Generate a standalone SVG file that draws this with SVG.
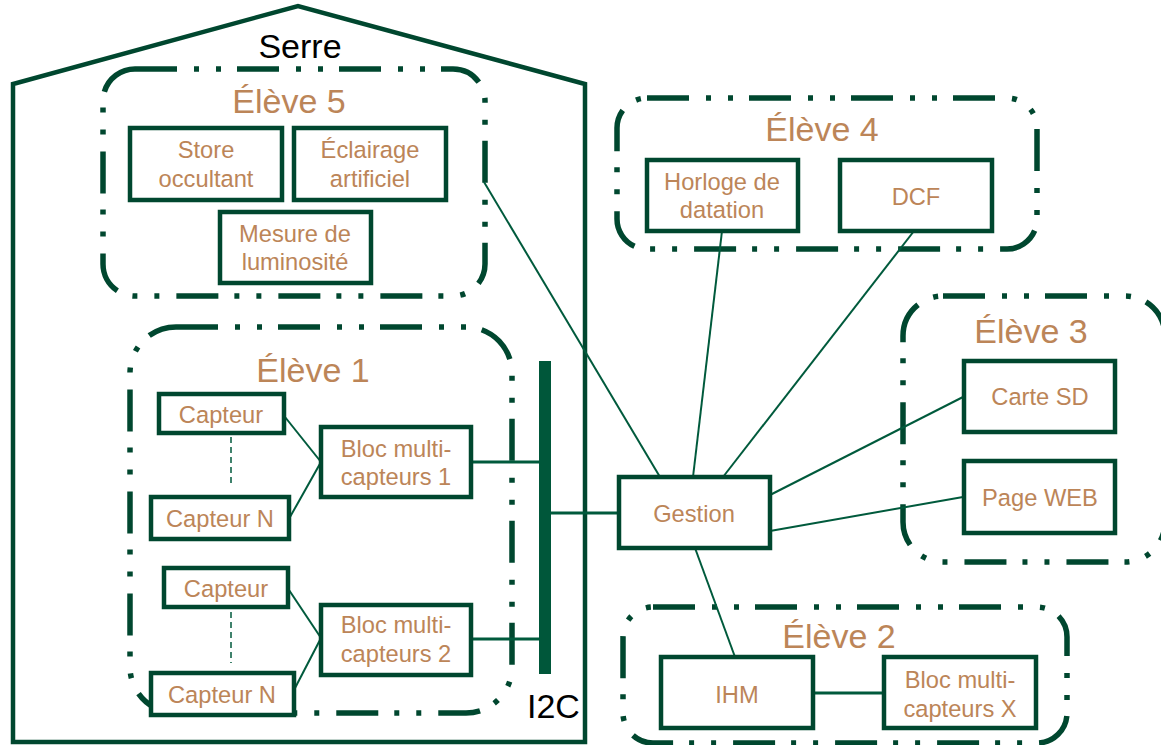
<svg xmlns="http://www.w3.org/2000/svg" width="1161" height="745" viewBox="0 0 1161 745">
<style>
.grp{fill:none;stroke:#00472F;stroke-width:5.5;stroke-dasharray:42 17 5 17 5 16}
.box{fill:#fff;stroke:#00472F;stroke-width:4.5}
.t{font-family:"Liberation Sans",Arial,sans-serif;fill:#BC8558;text-anchor:middle;font-size:23.7px}
.h{font-family:"Liberation Sans",Arial,sans-serif;fill:#BC8558;text-anchor:middle;font-size:34px}
.k{font-family:"Liberation Sans",Arial,sans-serif;fill:#000;font-size:34px}
.c{stroke:#005A3C;stroke-width:2;fill:none}
.c3{stroke:#005A3C;stroke-width:3;fill:none}
.d{stroke:#005A3C;stroke-width:1.5;stroke-dasharray:6 4;fill:none}
</style>
<rect width="1161" height="745" fill="#fff"/>
<g id="serre">
<polygon points="13,742 13,84 298,6 585,84 585,742" fill="none" stroke="#00472F" stroke-width="4.5"/>
<text class="k" x="300" y="58" text-anchor="middle">Serre</text>
</g>
<g id="eleve5">
<rect class="grp" x="103" y="69" width="382" height="227" rx="32"/>
<text class="h" x="289" y="113">Élève 5</text>
</g>
<g id="eleve1">
<rect class="grp" x="130" y="327" width="382" height="386" rx="46"/>
<text class="h" x="313" y="382">Élève 1</text>
</g>
<g id="eleve4">
<rect class="grp" x="617" y="98" width="420" height="151" rx="30"/>
<text class="h" x="822" y="141">Élève 4</text>
</g>
<g id="eleve3">
<rect class="grp" x="903" y="296" width="262" height="266" rx="40"/>
<text class="h" x="1031" y="343">Élève 3</text>
</g>
<g id="eleve2">
<rect class="grp" x="623" y="607" width="444" height="136" rx="30"/>
<text class="h" x="839" y="648">Élève 2</text>
</g>
<g id="connectors">
<line class="c" x1="484" y1="182" x2="660" y2="477"/>
<line class="c" x1="722" y1="231" x2="693" y2="477"/>
<line class="c" x1="914" y1="231" x2="723" y2="477"/>
<line class="c" x1="963" y1="397" x2="770" y2="495"/>
<line class="c" x1="963" y1="497" x2="770" y2="531"/>
<line class="c" x1="695" y1="548" x2="735" y2="657"/>
<line class="c3" x1="813" y1="693" x2="884" y2="693"/>
<line class="c3" x1="551" y1="513" x2="617" y2="513"/>
<line class="c3" x1="471" y1="462" x2="545" y2="462"/>
<line class="c3" x1="471" y1="639" x2="545" y2="639"/>
<line class="c" x1="285" y1="417" x2="321" y2="462"/>
<line class="c" x1="290" y1="517" x2="321" y2="462"/>
<line class="c" x1="289" y1="590" x2="321" y2="638"/>
<line class="c" x1="294" y1="690" x2="321" y2="638"/>
<line class="d" x1="231" y1="437" x2="231" y2="487"/>
<line class="d" x1="231" y1="612" x2="231" y2="663"/>
</g>
<g id="i2c">
<rect x="539" y="361" width="12" height="313" fill="#00573A"/>
<text class="k" x="527" y="718">I2C</text>
</g>
<g id="store"><rect class="box" x="130" y="128" width="152" height="72"/><text class="t" x="206" y="158">Store</text><text class="t" x="206" y="187">occultant</text></g>
<g id="eclairage"><rect class="box" x="294" y="128" width="152" height="72"/><text class="t" x="370" y="158">Éclairage</text><text class="t" x="370" y="187">artificiel</text></g>
<g id="mesure"><rect class="box" x="220" y="212" width="151" height="71"/><text class="t" x="295" y="242">Mesure de</text><text class="t" x="295" y="270">luminosité</text></g>
<g id="capteur1"><rect class="box" x="159" y="394" width="125" height="39"/><text class="t" x="221" y="423">Capteur</text></g>
<g id="capteurN1"><rect class="box" x="151" y="497" width="138" height="42"/><text class="t" x="220" y="527">Capteur N</text></g>
<g id="bloc1"><rect class="box" x="321" y="427" width="150" height="70"/><text class="t" x="396" y="457">Bloc multi-</text><text class="t" x="396" y="485">capteurs 1</text></g>
<g id="capteur2"><rect class="box" x="164" y="568" width="124" height="39"/><text class="t" x="226" y="597">Capteur</text></g>
<g id="capteurN2"><rect class="box" x="151" y="673" width="143" height="42"/><text class="t" x="222" y="703">Capteur N</text></g>
<g id="bloc2"><rect class="box" x="321" y="605" width="150" height="70"/><text class="t" x="396" y="633">Bloc multi-</text><text class="t" x="396" y="662">capteurs 2</text></g>
<g id="horloge"><rect class="box" x="647" y="160" width="151" height="71"/><text class="t" x="722" y="190">Horloge de</text><text class="t" x="722" y="218">datation</text></g>
<g id="dcf"><rect class="box" x="840" y="160" width="152" height="71"/><text class="t" x="916" y="205">DCF</text></g>
<g id="gestion"><rect class="box" x="619" y="477" width="151" height="71"/><text class="t" x="694" y="522">Gestion</text></g>
<g id="cartesd"><rect class="box" x="964" y="361" width="151" height="71"/><text class="t" x="1040" y="405">Carte SD</text></g>
<g id="pageweb"><rect class="box" x="964" y="461" width="151" height="72"/><text class="t" x="1040" y="506">Page WEB</text></g>
<g id="ihm"><rect class="box" x="661" y="657" width="152" height="71"/><text class="t" x="737" y="703">IHM</text></g>
<g id="blocX"><rect class="box" x="884" y="657" width="152" height="71"/><text class="t" x="960" y="688">Bloc multi-</text><text class="t" x="960" y="717">capteurs X</text></g>
</svg>
